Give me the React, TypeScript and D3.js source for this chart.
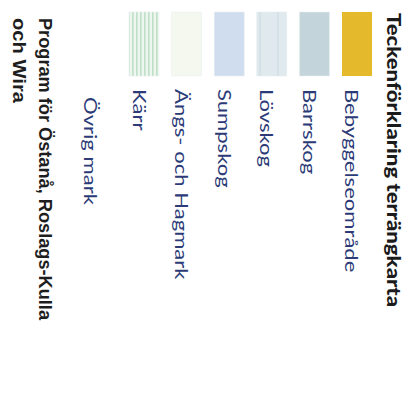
import React from "react";
import * as d3 from "d3";

const W = 414;
const H = 416;

const title = "Teckenförklaring terrängkarta";
const categories = ["Bebyggelseområde", "Barrskog", "Lövskog", "Sumpskog", "Ängs- och Hagmark", "Kärr", "Övrig mark"];
const swatchColors = ["#e4b92b", "#c3d5da", "url(#lov)", "#d0ddef", "#f4f8ee", "url(#karr)", "none"];
const footerLines = ["Program för Östanå, Roslags-Kulla", "och Wira"];

export default function App() {
  // index -> horizontal position (legend is rotated 90° clockwise)
  const x = d3.scaleLinear().domain([0, 5]).range([342, 129]);
  const labelX = d3.scaleLinear().domain([0, 5]).range([345, 133]);
  const swY = d3.scaleLinear().domain([0, 1]).range([12, 76]);
  const swW = 30;

  return (
    <svg
      width={W}
      height={H}
      viewBox={`0 0 ${W} ${H}`}
      style={{ position: "absolute", left: 0, top: 0, background: "#fff" }}
    >
      <defs>
        <pattern id="karr" width="4" height="10" patternUnits="userSpaceOnUse">
          <rect width="4" height="10" fill="#eef7ef" />
          <rect width="1.6" height="10" fill="#bfdfc6" />
        </pattern>
        <pattern id="lov" width="30" height="12" patternUnits="userSpaceOnUse">
          <rect width="30" height="12" fill="#dfe9ee" />
          <line x1="8" y1="0" x2="8" y2="12" stroke="#cad9e0" strokeWidth="1" />
          <line x1="20" y1="0" x2="20" y2="12" stroke="#cad9e0" strokeWidth="1" />
        </pattern>
      </defs>
      <rect width={W} height={H} fill="#fff" />

      {/* title */}
      <text
        transform={`translate(387,13) rotate(90)`}
        fontFamily="Lato, 'DejaVu Sans', sans-serif"
        fontWeight="900"
        fontSize={19}
        fill="#1b1b1b"
        textLength={294}
        lengthAdjust="spacingAndGlyphs"
      >
        {title}
      </text>

      {/* swatches */}
      {categories.map((c, i) =>
        swatchColors[i] === "none" ? null : (
          <rect
            key={"s" + c}
            x={x(i)}
            y={swY(0)}
            width={swW}
            height={swY(1) - swY(0)}
            fill={swatchColors[i]}
            stroke={i === 0 ? "none" : "#e8eef0"}
            strokeWidth={0.6}
          />
        )
      )}

      {/* labels */}
      {categories.map((c, i) => (
        <text
          key={"l" + c}
          transform={`translate(${i === 6 ? 84 : labelX(i)},${i === 6 ? 97 : 89}) rotate(90) scale(1.3,1)`}
          fontFamily="Lato, 'DejaVu Sans', sans-serif"
          fontSize={17}
          fill="#2c3b78"
        >
          {c}
        </text>
      ))}

      {/* footer */}
      {footerLines.map((t, i) => (
        <text
          key={"f" + i}
          transform={`translate(${39 - i * 26},18) rotate(90)`}
          fontFamily="'Liberation Sans', Arial, sans-serif"
          fontWeight="bold"
          fontSize={19}
          fill="#1e1e1e"
          textLength={i === 0 ? 302 : 85}
          lengthAdjust="spacingAndGlyphs"
        >
          {t}
        </text>
      ))}
    </svg>
  );
}
